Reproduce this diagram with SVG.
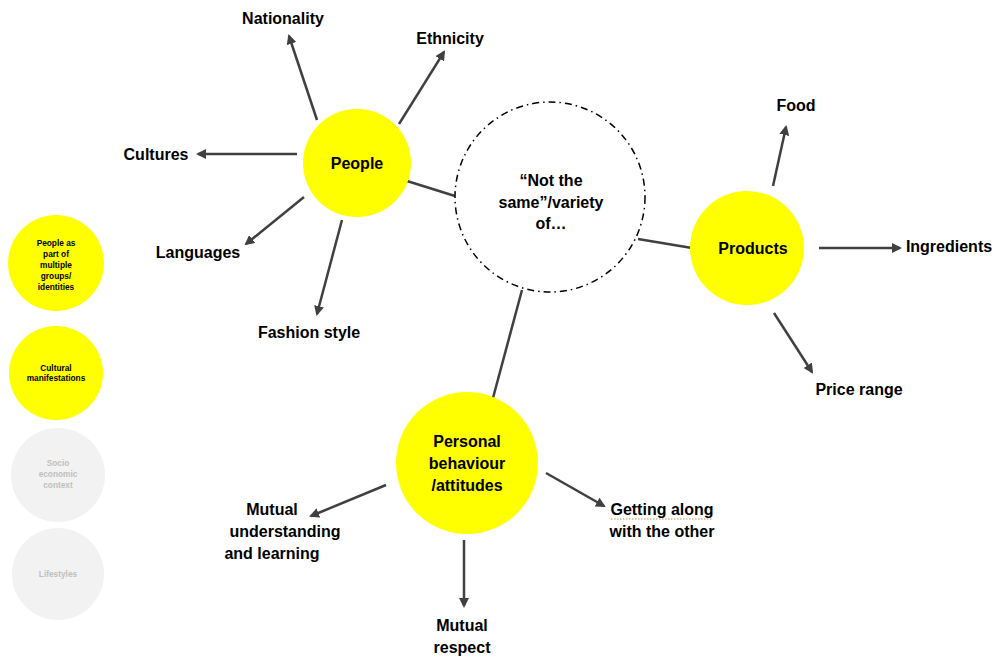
<svg xmlns="http://www.w3.org/2000/svg" width="996" height="657" viewBox="0 0 996 657">
<defs>
<marker id="ah" viewBox="0 0 10 10" refX="8" refY="5" markerWidth="4" markerHeight="4" orient="auto" markerUnits="strokeWidth">
<path d="M0,0 L10,5 L0,10 z" fill="#404040"/>
</marker>
<style>
.t{font-family:"Liberation Sans",Arial,sans-serif;font-weight:bold;font-size:16px;fill:#000;text-anchor:middle}
.s{font-family:"Liberation Sans",Arial,sans-serif;font-weight:bold;font-size:8.3px;fill:#000;text-anchor:middle}
.g{fill:#bfbfbf}
.y{fill:#ffff00}
.gc{fill:#f2f2f2}
.ln{stroke:#404040;stroke-width:2.5;fill:none}
.ar{stroke:#404040;stroke-width:2.5;fill:none;marker-end:url(#ah)}
</style>
</defs>
<rect width="996" height="657" fill="#fff"/>
<g id="connectors">
<line class="ar" x1="317" y1="120" x2="289" y2="36"/>
<line class="ar" x1="399" y1="124" x2="444" y2="52"/>
<line class="ar" x1="297" y1="154" x2="198" y2="154"/>
<line class="ar" x1="304" y1="197" x2="246" y2="244"/>
<line class="ar" x1="342" y1="220" x2="317" y2="314"/>
<line class="ln" x1="407" y1="181" x2="455" y2="196"/>
<line class="ln" x1="638" y1="239" x2="692" y2="248"/>
<line class="ar" x1="773" y1="186" x2="786" y2="127"/>
<line class="ar" x1="819" y1="248" x2="900" y2="248"/>
<line class="ar" x1="774" y1="313" x2="812" y2="372"/>
<line class="ln" x1="522" y1="290" x2="493" y2="398"/>
<line class="ar" x1="386" y1="485" x2="311" y2="516"/>
<line class="ar" x1="546" y1="473" x2="604" y2="506"/>
<line class="ar" x1="464" y1="540" x2="464" y2="606"/>
</g>
<g id="center">
<circle cx="550" cy="197" r="95" fill="#fff" stroke="#000" stroke-width="1.5" stroke-dasharray="7,4,1.5,4"/>
<text class="t" x="551" y="186">“Not the</text>
<text class="t" x="551" y="208">same”/variety</text>
<text class="t" x="551" y="229">of…</text>
</g>
<g id="people">
<circle class="y" cx="357" cy="163" r="54"/>
<text class="t" x="357" y="169">People</text>
</g>
<g id="products">
<circle class="y" cx="747" cy="248" r="57"/>
<text class="t" x="753" y="254">Products</text>
</g>
<g id="personal">
<circle class="y" cx="467" cy="463" r="71"/>
<text class="t" x="467" y="447">Personal</text>
<text class="t" x="467" y="469">behaviour</text>
<text class="t" x="467" y="491">/attitudes</text>
</g>
<g id="nationality"><text class="t" x="283" y="24">Nationality</text></g>
<g id="ethnicity"><text class="t" x="450" y="44">Ethnicity</text></g>
<g id="cultures"><text class="t" x="156" y="160">Cultures</text></g>
<g id="languages"><text class="t" x="198" y="258">Languages</text></g>
<g id="fashion"><text class="t" x="309" y="338">Fashion style</text></g>
<g id="food"><text class="t" x="796" y="111">Food</text></g>
<g id="ingredients"><text class="t" x="949" y="252">Ingredients</text></g>
<g id="price"><text class="t" x="859" y="395">Price range</text></g>
<g id="mutual-understanding">
<text class="t" x="272" y="515">Mutual</text>
<text class="t" x="285" y="537">understanding</text>
<text class="t" x="272" y="559">and learning</text>
</g>
<g id="getting-along">
<text class="t" x="662" y="515">Getting along</text>
<text class="t" x="662" y="537">with the other</text>
<line x1="611" y1="519" x2="713" y2="519" stroke="#c0904a" stroke-width="1" stroke-dasharray="1.5,1.5"/>
</g>
<g id="mutual-respect">
<text class="t" x="462" y="631">Mutual</text>
<text class="t" x="462" y="653">respect</text>
</g>
<g id="legend-1">
<circle class="y" cx="56" cy="263" r="48"/>
<text class="s" x="56" y="246">People as</text>
<text class="s" x="56" y="257">part of</text>
<text class="s" x="56" y="268">multiple</text>
<text class="s" x="56" y="279">groups/</text>
<text class="s" x="56" y="290">identities</text>
</g>
<g id="legend-2">
<circle class="y" cx="56" cy="373" r="47"/>
<text class="s" x="56" y="371">Cultural</text>
<text class="s" x="56" y="381">manifestations</text>
</g>
<g id="legend-3">
<circle class="gc" cx="58" cy="475" r="47"/>
<text class="s g" x="58" y="466">Socio</text>
<text class="s g" x="58" y="477">economic</text>
<text class="s g" x="58" y="488">context</text>
</g>
<g id="legend-4">
<circle class="gc" cx="58" cy="574" r="46"/>
<text class="s g" x="58" y="577">Lifestyles</text>
</g>
</svg>
